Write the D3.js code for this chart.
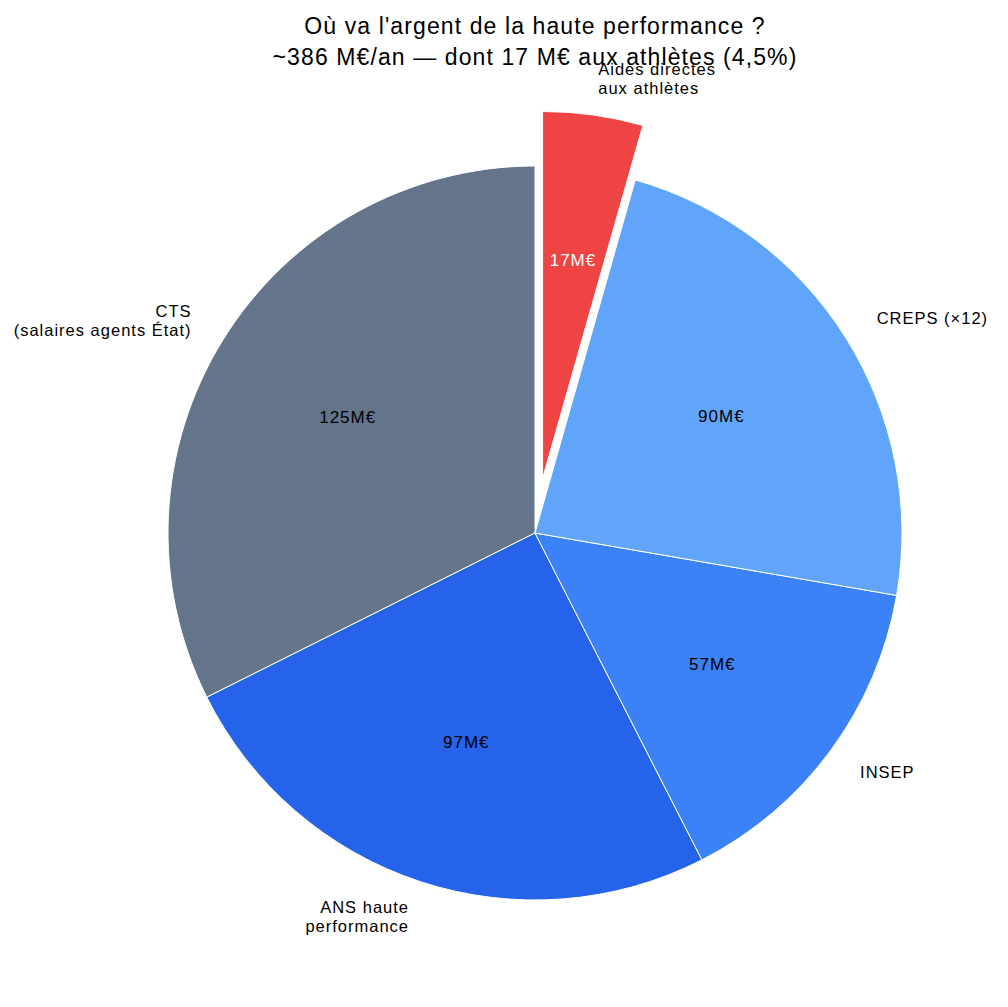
<!DOCTYPE html>
<html><head><meta charset="utf-8">
<script src="https://cdn.jsdelivr.net/npm/d3@7"></script>
<style>body{margin:0;background:#fff}svg{display:block}text{font-family:"Liberation Sans",Arial,Helvetica,sans-serif}</style>
</head><body><svg id="c" width="1008" height="1007"></svg>
<script>
const categories = ["CTS\n(salaires agents État)", "ANS haute\nperformance", "INSEP", "CREPS (×12)", "Aides directes\naux athlètes"];
const values = [125, 97, 57, 90, 17];
const valueLabels = ["125M€", "97M€", "57M€", "90M€", "17M€"];
const colors = ["#64748b", "#2563eb", "#3b82f6", "#60a5fa", "#ef4444"];
const explode = [0, 0, 0, 0, 0.15];
const labelColors = ["#000", "#000", "#000", "#000", "#fff"];
const titleLines = ["Où va l'argent de la haute performance ?", "~386 M€/an — dont 17 M€ aux athlètes (4,5%)"];

const svg = d3.select("#c");
const cx = 535, cy = 533, R = 367;
const total = d3.sum(values);
const ang = d3.scaleLinear().domain([0, total]).range([0, -2 * Math.PI]);
let cum = 0;
const slices = values.map((v, i) => {
  const s = { i, start: ang(cum), end: ang(cum + v) };
  cum += v; s.mid = (s.start + s.end) / 2; return s;
});
const arc = d3.arc().innerRadius(0).outerRadius(R);
const g = svg.append("g").attr("transform", `translate(${cx},${cy})`);
const pt = (a, r) => [Math.sin(a) * r, -Math.cos(a) * r];

slices.forEach(s => {
  const off = pt(s.mid, explode[s.i] * R);
  const sg = g.append("g").attr("transform", `translate(${off[0]},${off[1]})`);
  sg.append("path").attr("d", arc({ startAngle: s.start, endAngle: s.end }))
    .attr("fill", colors[s.i]).attr("stroke", "#fff").attr("stroke-width", 1);
});
slices.forEach(s => {
  const off = pt(s.mid, explode[s.i] * R);
  const sg = g.append("g").attr("transform", `translate(${off[0]},${off[1]})`);
  const vp = pt(s.mid, 0.6 * R);
  sg.append("text").attr("x", vp[0]).attr("y", vp[1]).attr("dy", "0.35em")
    .attr("text-anchor", "middle").attr("font-size", 17).attr("letter-spacing", 1)
    .attr("fill", labelColors[s.i]).text(valueLabels[s.i]);
  const lp = pt(s.mid, 1.1 * R);
  const lines = categories[s.i].split("\n");
  const anchor = lp[0] >= 0 ? "start" : "end";
  const lh = 19;
  const t = sg.append("text").attr("text-anchor", anchor).attr("font-size", 16.5)
    .attr("letter-spacing", 1).attr("fill", "#000");
  lines.forEach((ln, k) => {
    t.append("tspan").attr("x", lp[0])
      .attr("y", lp[1] + (k - (lines.length - 1) / 2) * lh).attr("dy", "0.35em").text(ln);
  });
});

const tt = svg.append("text").attr("text-anchor", "middle").attr("font-size", 23)
  .attr("letter-spacing", 1.1).attr("fill", "#000");
titleLines.forEach((ln, k) => tt.append("tspan").attr("x", cx).attr("y", 34 + k * 31).text(ln));
</script></body></html>
